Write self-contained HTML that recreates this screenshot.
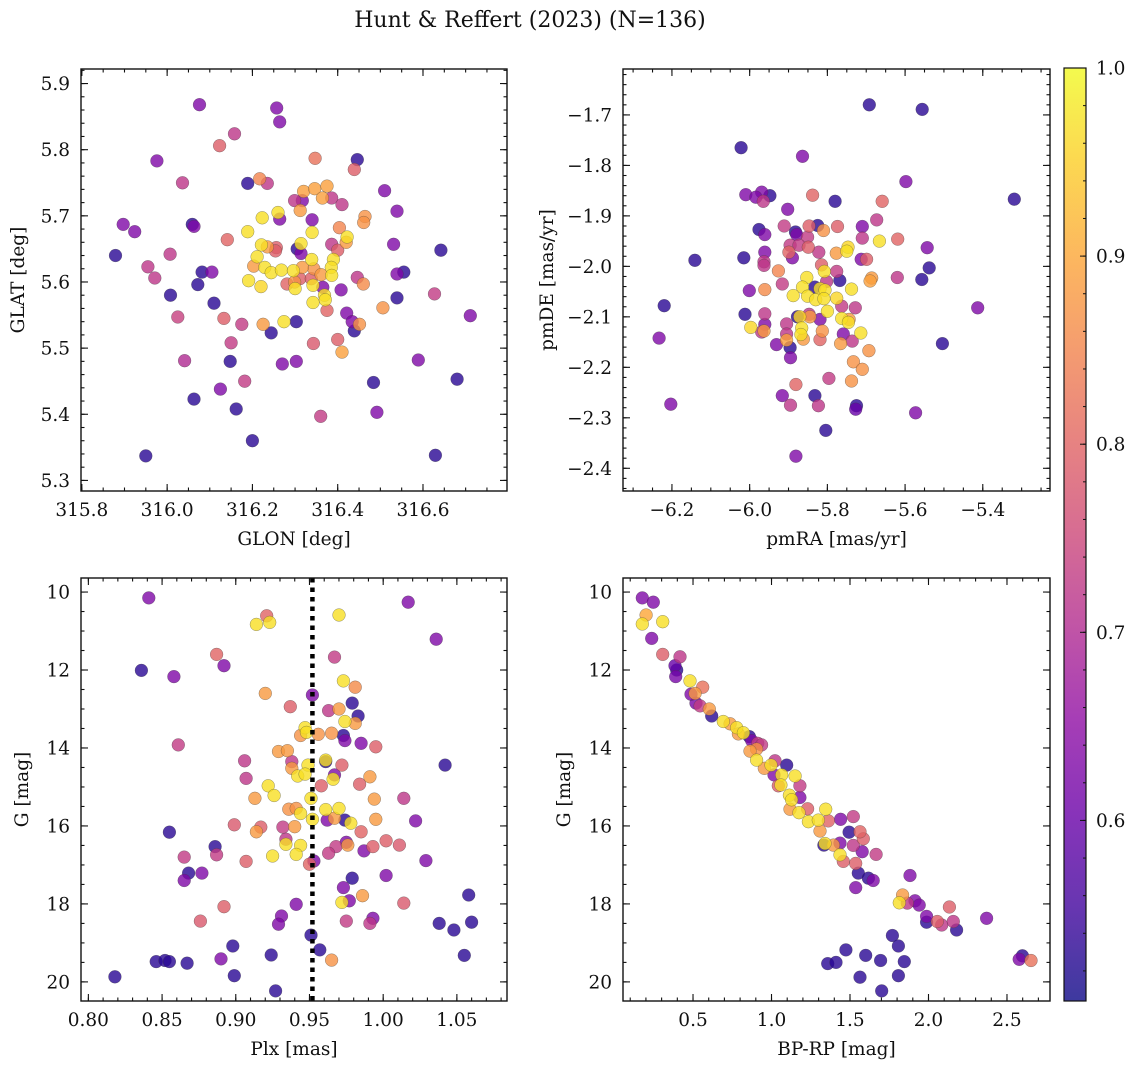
<!DOCTYPE html>
<html><head><meta charset="utf-8"><style>
html,body{margin:0;padding:0;background:#fff;}
svg text{font-family:"DejaVu Serif","Liberation Serif",serif;fill:#111;}
</style></head><body>
<svg id="fig" xmlns="http://www.w3.org/2000/svg" width="1136" height="1068" viewBox="0 0 1136 1068">
<text x="530" y="27" text-anchor="middle" font-size="22">Hunt &amp; Reffert (2023) (N=136)</text>
</svg>
<script>
// ---------------- data ----------------
const p1Lon=[316.076,316.257,316.264,316.158,316.123,315.976,316.347,316.446,316.439,316.036,316.189,316.217,316.235,316.320,316.346,316.375,316.364,316.386,316.299,316.317,316.510,316.410,316.539,316.312,316.223,316.260,316.264,315.897,316.059,316.063,315.924,316.340,316.464,316.461,316.189,316.340,316.404,316.141,316.422,316.420,316.221,316.314,316.386,316.400,316.235,316.256,316.305,316.314,316.531,315.879,316.007,316.211,316.254,316.642,316.339,316.390,316.203,316.229,316.244,316.268,316.296,316.317,316.344,316.385,315.955,316.082,316.105,316.539,316.555,315.971,316.191,316.281,316.299,316.311,316.338,316.361,316.386,316.446,316.460,316.072,316.220,316.300,316.342,316.365,316.408,316.008,316.539,316.627,316.369,316.110,316.342,316.371,316.506,316.375,316.025,316.133,316.711,316.421,316.175,316.225,316.274,316.303,316.434,316.451,316.244,316.439,316.400,316.150,316.343,316.410,316.041,316.148,316.270,316.303,316.589,316.484,316.680,316.182,316.125,316.063,316.162,316.492,316.360,316.200,315.950,316.629];
const p1Lat=[5.868,5.863,5.842,5.824,5.806,5.783,5.787,5.785,5.770,5.750,5.749,5.756,5.749,5.737,5.741,5.745,5.727,5.727,5.723,5.723,5.738,5.717,5.707,5.708,5.697,5.705,5.695,5.687,5.687,5.684,5.676,5.694,5.699,5.690,5.676,5.675,5.682,5.664,5.668,5.660,5.656,5.658,5.657,5.648,5.653,5.652,5.650,5.643,5.657,5.640,5.642,5.638,5.647,5.648,5.634,5.634,5.624,5.622,5.614,5.618,5.617,5.622,5.620,5.622,5.623,5.615,5.615,5.612,5.615,5.606,5.602,5.597,5.600,5.605,5.605,5.611,5.610,5.607,5.597,5.596,5.593,5.590,5.595,5.592,5.588,5.580,5.576,5.582,5.580,5.568,5.569,5.573,5.561,5.557,5.547,5.545,5.549,5.553,5.536,5.536,5.540,5.540,5.540,5.536,5.523,5.526,5.513,5.508,5.507,5.494,5.481,5.480,5.476,5.480,5.482,5.448,5.453,5.450,5.438,5.423,5.408,5.403,5.397,5.360,5.337,5.338];
const p1Prob=[0.63,0.63,0.63,0.72,0.79,0.63,0.82,0.53,0.79,0.72,0.53,0.85,0.72,0.89,0.89,0.89,0.89,0.72,0.72,0.63,0.63,0.72,0.63,0.88,0.97,0.97,0.63,0.63,0.53,0.63,0.63,0.63,0.87,0.87,0.97,0.97,0.85,0.80,0.97,0.88,0.97,0.97,0.72,0.79,0.88,0.79,0.53,0.63,0.63,0.53,0.72,0.97,0.79,0.53,0.97,0.97,0.88,0.97,0.97,0.97,0.97,0.88,0.87,0.97,0.72,0.53,0.63,0.63,0.53,0.72,0.97,0.80,0.87,0.79,0.79,0.88,0.97,0.72,0.86,0.53,0.96,0.97,0.97,0.63,0.63,0.53,0.53,0.73,0.97,0.53,0.97,0.97,0.87,0.80,0.74,0.79,0.63,0.63,0.73,0.88,0.97,0.53,0.63,0.87,0.53,0.53,0.79,0.73,0.78,0.89,0.70,0.53,0.63,0.63,0.63,0.53,0.53,0.73,0.63,0.53,0.53,0.63,0.73,0.53,0.53,0.53];

const p2PmRA=[-5.692,-5.556,-6.022,-5.864,-5.598,-5.319,-6.010,-5.969,-5.948,-5.984,-5.965,-5.838,-5.780,-5.659,-5.902,-5.673,-5.911,-5.847,-5.825,-5.810,-5.774,-5.710,-5.976,-5.961,-5.882,-5.879,-5.851,-5.710,-5.666,-5.619,-5.543,-5.896,-5.873,-5.849,-5.899,-5.822,-5.777,-5.750,-5.747,-5.961,-6.015,-5.890,-5.713,-5.699,-6.141,-5.963,-5.963,-5.815,-5.538,-5.926,-5.808,-5.776,-5.620,-5.557,-5.853,-5.832,-5.802,-5.768,-5.686,-5.690,-5.916,-6.001,-5.961,-5.864,-5.819,-5.806,-5.738,-5.888,-5.851,-5.830,-5.809,-5.776,-5.763,-5.728,-6.220,-5.413,-6.012,-5.961,-5.877,-5.871,-5.847,-5.845,-5.819,-5.800,-5.763,-5.744,-5.746,-5.961,-5.997,-5.969,-5.963,-5.905,-5.866,-5.813,-5.868,-5.905,-6.233,-5.931,-5.905,-5.862,-5.819,-5.759,-5.714,-5.766,-5.736,-5.896,-5.504,-5.895,-5.693,-5.733,-5.710,-5.796,-5.738,-5.881,-5.916,-5.832,-6.203,-5.895,-5.823,-5.725,-5.727,-5.573,-5.804,-5.881];
const p2PmDE=[-1.680,-1.689,-1.765,-1.782,-1.832,-1.867,-1.858,-1.853,-1.860,-1.863,-1.871,-1.859,-1.871,-1.871,-1.887,-1.908,-1.920,-1.920,-1.919,-1.929,-1.921,-1.921,-1.927,-1.937,-1.932,-1.937,-1.942,-1.944,-1.950,-1.946,-1.963,-1.958,-1.958,-1.962,-1.972,-1.972,-1.974,-1.970,-1.962,-1.972,-1.983,-1.983,-1.986,-1.986,-1.988,-1.991,-1.998,-1.997,-2.003,-2.009,-2.010,-2.010,-2.022,-2.026,-2.022,-2.041,-2.030,-2.028,-2.023,-2.029,-2.035,-2.048,-2.046,-2.041,-2.044,-2.047,-2.045,-2.058,-2.059,-2.066,-2.064,-2.063,-2.079,-2.082,-2.078,-2.082,-2.095,-2.094,-2.100,-2.100,-2.095,-2.100,-2.105,-2.089,-2.103,-2.105,-2.111,-2.115,-2.121,-2.130,-2.128,-2.114,-2.122,-2.128,-2.135,-2.134,-2.142,-2.155,-2.146,-2.144,-2.145,-2.134,-2.132,-2.153,-2.148,-2.161,-2.153,-2.181,-2.167,-2.189,-2.204,-2.222,-2.227,-2.234,-2.256,-2.256,-2.273,-2.275,-2.276,-2.276,-2.283,-2.290,-2.325,-2.376];
const p2Prob=[0.53,0.53,0.53,0.63,0.63,0.53,0.63,0.63,0.53,0.63,0.72,0.80,0.53,0.80,0.63,0.72,0.73,0.79,0.53,0.87,0.79,0.63,0.53,0.63,0.53,0.63,0.73,0.72,0.97,0.80,0.63,0.73,0.73,0.79,0.80,0.72,0.88,0.97,0.96,0.63,0.53,0.63,0.63,0.79,0.53,0.72,0.72,0.79,0.53,0.85,0.97,0.73,0.72,0.53,0.97,0.53,0.72,0.53,0.88,0.89,0.73,0.63,0.86,0.97,0.97,0.97,0.97,0.97,0.97,0.97,0.97,0.96,0.73,0.72,0.53,0.63,0.53,0.72,0.53,0.96,0.72,0.88,0.63,0.97,0.97,0.88,0.97,0.63,0.96,0.72,0.88,0.72,0.97,0.87,0.97,0.72,0.63,0.63,0.89,0.88,0.80,0.63,0.97,0.88,0.72,0.53,0.53,0.63,0.87,0.87,0.87,0.73,0.87,0.80,0.63,0.53,0.63,0.72,0.72,0.53,0.60,0.63,0.53,0.63];

const p3Plx=[0.841,1.017,0.921,0.914,0.923,0.970,1.036,0.887,0.967,0.836,0.892,0.858,0.973,0.981,0.920,0.952,0.937,0.979,0.963,0.970,0.983,0.974,0.981,0.947,0.944,0.948,0.956,0.965,0.973,0.974,0.985,0.995,0.861,0.929,0.935,0.906,0.938,0.961,0.961,0.972,0.949,1.042,0.938,0.942,0.947,0.967,0.966,0.991,0.907,0.922,0.958,0.926,0.984,0.913,0.951,0.994,1.014,0.936,0.941,0.944,0.961,0.970,0.952,0.962,0.967,0.974,0.978,0.995,1.022,0.899,0.917,0.914,0.932,0.940,0.855,0.985,0.934,0.886,0.887,0.944,0.934,0.975,0.976,0.968,0.987,0.993,1.002,1.011,0.963,0.925,0.941,0.865,0.907,0.953,0.950,1.029,0.868,0.877,0.865,1.002,0.979,0.973,0.986,0.977,0.972,0.941,1.014,1.058,0.892,0.931,0.929,0.993,0.991,0.975,0.876,1.038,1.060,1.048,0.951,0.898,0.957,0.924,1.055,0.890,0.965,0.846,0.852,0.855,0.867,0.818,0.899,0.927];
const p3G=[10.15,10.26,10.61,10.83,10.78,10.59,11.21,11.60,11.67,12.01,11.89,12.17,12.28,12.44,12.60,12.64,12.94,12.85,13.04,13.00,13.18,13.32,13.37,13.48,13.68,13.60,13.65,13.62,13.68,13.81,13.88,13.97,13.92,14.09,14.07,14.33,14.35,14.35,14.31,14.44,14.44,14.44,14.52,14.72,14.67,14.69,14.80,14.74,14.78,14.97,14.97,15.22,14.93,15.29,15.29,15.31,15.29,15.57,15.55,15.68,15.58,15.55,15.83,15.85,15.80,15.85,15.93,15.83,15.87,15.97,16.03,16.15,16.03,16.02,16.16,16.15,16.34,16.53,16.74,16.50,16.47,16.42,16.49,16.53,16.64,16.53,16.38,16.49,16.70,16.77,16.73,16.80,16.91,16.90,16.98,16.89,17.21,17.21,17.40,17.27,17.34,17.58,17.79,17.92,17.96,18.01,17.98,17.77,18.07,18.31,18.52,18.37,18.50,18.44,18.44,18.50,18.47,18.67,18.80,19.08,19.18,19.31,19.32,19.41,19.44,19.48,19.45,19.48,19.52,19.87,19.84,20.23];
const p3Prob=[0.63,0.63,0.80,0.97,0.97,0.97,0.63,0.80,0.73,0.53,0.63,0.63,0.97,0.86,0.88,0.63,0.79,0.53,0.72,0.88,0.53,0.97,0.88,0.97,0.87,0.97,0.87,0.87,0.53,0.63,0.63,0.79,0.73,0.88,0.88,0.72,0.72,0.53,0.97,0.79,0.97,0.53,0.88,0.97,0.97,0.63,0.97,0.88,0.72,0.97,0.79,0.97,0.79,0.88,0.97,0.88,0.72,0.87,0.87,0.97,0.97,0.97,0.97,0.63,0.88,0.53,0.97,0.88,0.63,0.78,0.79,0.88,0.73,0.88,0.53,0.80,0.72,0.53,0.73,0.97,0.97,0.63,0.88,0.73,0.63,0.79,0.79,0.78,0.73,0.97,0.97,0.73,0.79,0.63,0.80,0.63,0.53,0.63,0.63,0.63,0.53,0.63,0.88,0.63,0.97,0.63,0.78,0.53,0.79,0.63,0.63,0.63,0.72,0.73,0.78,0.53,0.53,0.53,0.53,0.53,0.53,0.53,0.53,0.63,0.87,0.53,0.53,0.53,0.53,0.53,0.53,0.53];

const p4BpRp=[0.177,0.247,0.201,0.177,0.307,0.237,0.307,0.417,0.385,0.396,0.390,0.481,0.562,0.487,0.513,0.519,0.545,0.604,0.619,0.693,0.736,0.778,0.789,0.821,0.859,0.874,0.912,0.937,0.905,0.863,0.905,0.997,1.022,1.097,0.954,1.016,1.065,1.150,1.181,1.060,1.043,1.114,1.181,1.128,1.118,1.175,1.230,1.345,1.235,1.298,1.362,1.309,1.440,1.521,1.494,1.564,1.585,1.334,1.341,1.394,1.436,1.436,1.521,1.578,1.666,1.457,1.536,1.553,1.536,1.617,1.648,1.882,1.835,1.814,1.865,1.914,1.941,2.133,1.988,1.988,2.056,2.084,2.158,2.179,2.370,1.770,1.808,1.474,1.600,1.358,1.411,1.695,1.846,1.564,1.808,1.702,2.598,2.578,2.653];
const p4G=[10.15,10.26,10.59,10.82,10.76,11.19,11.60,11.66,11.89,12.00,12.17,12.28,12.44,12.62,12.60,12.85,12.92,13.00,13.18,13.32,13.38,13.48,13.64,13.61,13.71,13.81,13.88,13.92,14.03,14.08,14.31,14.44,14.33,14.44,14.52,14.69,14.69,14.72,14.97,14.95,14.97,15.21,15.27,15.33,15.57,15.66,15.56,15.57,15.89,15.85,15.87,16.13,15.83,15.76,16.16,16.15,16.33,16.49,16.45,16.49,16.44,16.74,16.50,16.66,16.73,16.91,16.96,17.21,17.58,17.34,17.40,17.27,17.77,17.97,17.98,17.92,18.03,18.08,18.32,18.47,18.45,18.54,18.45,18.67,18.37,18.81,19.08,19.18,19.32,19.53,19.50,19.45,19.48,19.88,19.84,20.23,19.33,19.42,19.45];
const p4Prob=[0.63,0.63,0.90,0.97,0.97,0.63,0.79,0.72,0.60,0.53,0.62,0.97,0.82,0.63,0.88,0.62,0.73,0.88,0.53,0.97,0.88,0.97,0.88,0.97,0.53,0.63,0.73,0.73,0.87,0.88,0.97,0.97,0.72,0.53,0.88,0.63,0.97,0.97,0.73,0.97,0.79,0.97,0.63,0.97,0.88,0.97,0.79,0.97,0.97,0.97,0.80,0.88,0.63,0.73,0.53,0.80,0.79,0.53,0.97,0.88,0.63,0.97,0.72,0.63,0.73,0.79,0.79,0.53,0.63,0.53,0.63,0.63,0.88,0.97,0.72,0.63,0.63,0.79,0.63,0.53,0.79,0.72,0.72,0.53,0.63,0.53,0.53,0.53,0.53,0.53,0.53,0.53,0.53,0.53,0.53,0.53,0.53,0.63,0.82];

const p1XTicks=[315.8,316.0,316.2,316.4,316.6];
const p1YTicks=[5.3,5.4,5.5,5.6,5.7,5.8,5.9];
const p2XTicks=[-6.2,-6.0,-5.8,-5.6,-5.4];
const p2YTicks=[-2.4,-2.3,-2.2,-2.1,-2.0,-1.9,-1.8,-1.7];
const p3XTicks=[0.80,0.85,0.90,0.95,1.00,1.05];
const p4XTicks=[0.5,1.0,1.5,2.0,2.5];
const cmYTicks=[10,12,14,16,18,20];
const cbTicks=[0.6,0.7,0.8,0.9,1.0];
const plxMean=0.952;

// ---------------- rendering ----------------
const NS='http://www.w3.org/2000/svg';
const svg=document.getElementById('fig');
const PL=[[13,8,135],[65,4,157],[106,0,168],[143,13,164],[177,42,144],[204,71,120],[225,100,98],[242,132,75],[252,166,54],[252,206,37],[240,249,33]];
const CMIN=0.504,CMAX=1.0;
const TICKFS=18.5,LABFS=18.5;
function cmap(v){let t=(v-CMIN)/(CMAX-CMIN);t=Math.max(0,Math.min(1,t))*10;const i=Math.min(9,Math.floor(t)),f=t-i;const a=PL[i],b=PL[i+1];return 'rgb('+a.map((c,k)=>Math.round(c+(b[k]-c)*f)).join(',')+')';}
function mk(tag,attrs,parent){const e=document.createElementNS(NS,tag);for(const k in attrs)e.setAttribute(k,attrs[k]);(parent||svg).appendChild(e);return e;}
function fmt(v,d){const s=Math.abs(v).toFixed(d);return (v<-1e-9?'\u2212':'')+s;}

function panel(cfg){
  const g=mk('g',{});
  
  
  const sx=v=>cfg.px0+(v-cfg.xmin)/(cfg.xmax-cfg.xmin)*(cfg.px1-cfg.px0);
  const sy=v=>cfg.py0+(v-cfg.ytop)/(cfg.ybot-cfg.ytop)*(cfg.py1-cfg.py0);
  const gt=mk('g',{stroke:'#111','stroke-width':1.1},g);
  
  
  const xs=cfg.xticks[1]-cfg.xticks[0],xm=xs/cfg.xminor;
  for(let v=cfg.xticks[0]-10*xs;v<=cfg.xmax+1e-9;v+=xm){if(v<cfg.xmin-1e-9)continue;const x=sx(v);
    mk('line',{x1:x,x2:x,y1:cfg.py1,y2:cfg.py1-3.5},gt);mk('line',{x1:x,x2:x,y1:cfg.py0,y2:cfg.py0+3.5},gt);}
  const yt=cfg.yticks,ys=yt[1]-yt[0],ym=ys/cfg.yminor;
  const ylo=Math.min(cfg.ytop,cfg.ybot),yhi=Math.max(cfg.ytop,cfg.ybot);
  for(let v=yt[0]-10*ys;v<=yhi+1e-9;v+=ym){if(v<ylo-1e-9)continue;const y=sy(v);
    mk('line',{x1:cfg.px0,x2:cfg.px0+3.5,y1:y,y2:y},gt);mk('line',{x1:cfg.px1,x2:cfg.px1-3.5,y1:y,y2:y},gt);}
  cfg.xticks.forEach(v=>{const x=sx(v);
    mk('line',{x1:x,x2:x,y1:cfg.py1,y2:cfg.py1-7},gt);mk('line',{x1:x,x2:x,y1:cfg.py0,y2:cfg.py0+7},gt);
    const t=mk('text',{x:x,y:cfg.py1+25,'text-anchor':'middle','font-size':TICKFS},g);t.textContent=fmt(v,cfg.xd);
    
    });
  cfg.yticks.forEach(v=>{const y=sy(v);
    mk('line',{x1:cfg.px0,x2:cfg.px0+7,y1:y,y2:y},gt);mk('line',{x1:cfg.px1,x2:cfg.px1-7,y1:y,y2:y},gt);
    const t=mk('text',{x:cfg.px0-11,y:y+6.5,'text-anchor':'end','font-size':TICKFS},g);t.textContent=fmt(v,cfg.yd);
    
    });
  const idx=cfg.xs.map((_,i)=>i).sort((a,b)=>cfg.cs[a]-cfg.cs[b]);
  const gp=mk('g',{},g);
  
  
  idx.forEach(i=>{const c=mk('circle',{cx:sx(cfg.xs[i]).toFixed(1),cy:sy(cfg.ys[i]).toFixed(1),r:6.4,fill:cmap(cfg.cs[i]),'fill-opacity':0.8,stroke:'rgba(60,60,60,0.55)','stroke-width':0.5},gp);
    
    });
  if(cfg.vline!==undefined){const x=sx(cfg.vline);
    const l=mk('line',{x1:x,x2:x,y1:cfg.py0,y2:cfg.py1,stroke:'#000','stroke-width':4.5,'stroke-dasharray':'4.5,5'});
    
    }
  const fr=mk('rect',{x:cfg.px0,y:cfg.py0,width:cfg.px1-cfg.px0,height:cfg.py1-cfg.py0,fill:'none',stroke:'#111','stroke-width':1.4});
  
  
  const xl=mk('text',{x:(cfg.px0+cfg.px1)/2,y:cfg.py1+54,'text-anchor':'middle','font-size':LABFS});xl.textContent=cfg.xlabel;
  
  
  const yx=cfg.px0-cfg.ylo,yy=(cfg.py0+cfg.py1)/2;
  const yl=mk('text',{x:yx,y:yy,'text-anchor':'middle','font-size':LABFS,transform:'rotate(-90 '+yx+' '+yy+')'});yl.textContent=cfg.ylabel;
  
  
}

panel({name:'sky-position-panel',px0:81,px1:507,py0:69,py1:491,xmin:315.798,xmax:316.797,ytop:5.922,ybot:5.284,
  xticks:p1XTicks,yticks:p1YTicks,xminor:4,yminor:5,xd:1,yd:1,xs:p1Lon,ys:p1Lat,cs:p1Prob,xlabel:'GLON [deg]',ylabel:'GLAT [deg]',ylo:57});
panel({name:'proper-motion-panel',px0:623,px1:1050,py0:69,py1:491,xmin:-6.326,xmax:-5.227,ytop:-1.609,ybot:-2.445,
  xticks:p2XTicks,yticks:p2YTicks,xminor:4,yminor:5,xd:1,yd:1,xs:p2PmRA,ys:p2PmDE,cs:p2Prob,xlabel:'pmRA [mas/yr]',ylabel:'pmDE [mas/yr]',ylo:70});
panel({name:'parallax-magnitude-panel',px0:81,px1:507,py0:578,py1:1001,xmin:0.795,xmax:1.084,ytop:9.64,ybot:20.49,
  xticks:p3XTicks,yticks:cmYTicks,xminor:5,yminor:4,xd:2,yd:0,xs:p3Plx,ys:p3G,cs:p3Prob,xlabel:'Plx [mas]',ylabel:'G [mag]',ylo:53,vline:plxMean});
panel({name:'cmd-panel',px0:623,px1:1050,py0:578,py1:1001,xmin:0.054,xmax:2.774,ytop:9.64,ybot:20.49,
  xticks:p4XTicks,yticks:cmYTicks,xminor:5,yminor:4,xd:1,yd:0,xs:p4BpRp,ys:p4G,cs:p4Prob,xlabel:'BP-RP [mag]',ylabel:'G [mag]',ylo:53});

// colorbar
(function(){
  const x0=1064,x1=1086,y0=68,y1=1001;
  const defs=mk('defs',{});
  const lg=mk('linearGradient',{id:'plasmaGrad',x1:0,y1:1,x2:0,y2:0},defs);
  for(let i=0;i<=10;i++){const v=CMIN+(CMAX-CMIN)*i/10;mk('stop',{offset:(i/10),'stop-color':cmap(v),'stop-opacity':0.8},lg);}
  const r=mk('rect',{x:x0,y:y0,width:x1-x0,height:y1-y0,fill:'url(#plasmaGrad)',stroke:'#111','stroke-width':1.2});
  
  
  const sy=v=>y1-(v-CMIN)/(CMAX-CMIN)*(y1-y0);
  for(let v=0.52;v<=1.0001;v+=0.02){const y=sy(v);mk('line',{x1:x1,x2:x1-3,y1:y,y2:y,stroke:'#111','stroke-width':1});}
  cbTicks.forEach(v=>{const y=sy(v);mk('line',{x1:x1,x2:x1-6,y1:y,y2:y,stroke:'#111','stroke-width':1});
    const t=mk('text',{x:x1+10,y:y+6.5,'font-size':TICKFS});t.textContent=v.toFixed(1);
    
    });
})();
</script>
</body></html>
